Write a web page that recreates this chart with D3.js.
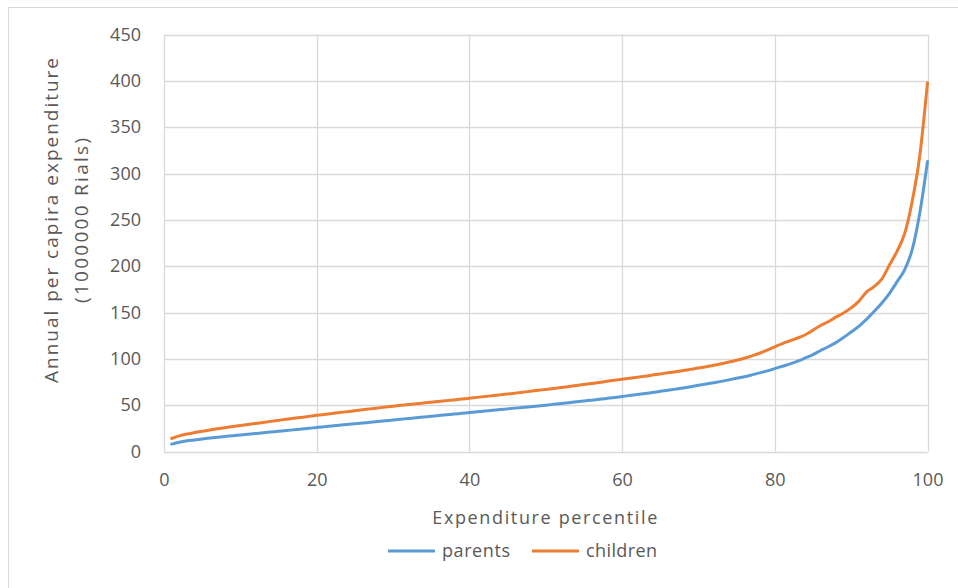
<!DOCTYPE html>
<html>
<head>
<meta charset="utf-8">
<script src="https://cdn.jsdelivr.net/npm/d3@7"></script>
<style>
  html, body { margin: 0; padding: 0; background: #fff; }
  svg { display: block; }
  text { font-family: "Segoe UI", "Open Sans", "Noto Sans", sans-serif; fill: #595959; }
</style>
</head>
<body>
<svg id="chart" width="958" height="588"></svg>
<script>
// Expenditure percentiles 1..100
const percentiles = d3.range(1, 101);

// Annual per capita expenditure (million Rials) at each percentile
const parents = [
  8, 10, 11.5, 12.5, 13.5, 14.5, 15.5, 16.3, 17, 17.8,
  18.6, 19.4, 20.2, 21, 21.8, 22.6, 23.4, 24.2, 25, 26,
  26.8, 27.6, 28.4, 29.2, 30, 30.8, 31.5, 32.3, 33.1, 34,
  34.8, 35.6, 36.4, 37.2, 38, 38.8, 39.6, 40.4, 41.2, 42,
  42.8, 43.6, 44.4, 45.2, 46, 46.8, 47.6, 48.4, 49.2, 50,
  50.9, 51.8, 52.7, 53.6, 54.5, 55.4, 56.3, 57.3, 58.3, 59.3,
  60.4, 61.5, 62.6, 63.7, 64.9, 66.1, 67.3, 68.5, 69.9, 71.4,
  72.8, 74.2, 75.7, 77.3, 79, 80.7, 82.7, 84.8, 87, 89.5,
  92, 94.5, 97.5, 101, 104.5, 109, 113, 117.5, 123, 129,
  135, 142.5, 151, 160, 170.5, 183, 196, 218, 258, 313
];
const children = [
  14, 16.8, 18.8, 20.4, 21.9, 23.2, 24.5, 25.7, 26.9, 28,
  29.2, 30.3, 31.4, 32.5, 33.6, 34.7, 35.8, 36.8, 37.9, 39,
  40, 41, 42, 43, 44, 45, 46, 47, 48, 48.9,
  49.8, 50.6, 51.5, 52.3, 53.2, 54, 54.9, 55.7, 56.6, 57.5,
  58.4, 59.3, 60.2, 61.1, 62, 63, 64, 65, 66, 67,
  68, 69, 70.1, 71.2, 72.3, 73.4, 74.5, 75.7, 76.8, 78,
  79.1, 80.2, 81.3, 82.5, 83.7, 84.9, 86.1, 87.4, 88.7, 90,
  91.5, 93, 94.7, 96.5, 98.5, 100.7, 103.2, 106, 109.5, 113,
  116.5, 119.5, 122.5, 126, 131, 136, 140, 145, 149.5, 155,
  162, 172, 178, 186, 201, 216, 235, 270, 320, 398
];

const xTicks = [0, 20, 40, 60, 80, 100];
const yTicks = [0, 50, 100, 150, 200, 250, 300, 350, 400, 450];

const seriesNames = ["parents", "children"];
const seriesColors = ["#5B9BD5", "#ED7D31"];
const seriesValues = [parents, children];

const svg = d3.select("#chart");

// chart outer frame
svg.append("rect")
  .attr("x", 8.5).attr("y", 7.5)
  .attr("width", 1000).attr("height", 1000)
  .attr("fill", "none").attr("stroke", "#D9D9D9").attr("stroke-width", 1);

const plot = { left: 164, right: 927.5, top: 34.5, bottom: 451.5 };

const x = d3.scaleLinear().domain([0, 100]).range([plot.left, plot.right]);
const y = d3.scaleLinear().domain([0, 450]).range([plot.bottom, plot.top]);

// horizontal gridlines
svg.append("g")
  .selectAll("line")
  .data(yTicks)
  .join("line")
  .attr("x1", plot.left).attr("x2", plot.right)
  .attr("y1", d => Math.round(y(d)) + 0.5).attr("y2", d => Math.round(y(d)) + 0.5)
  .attr("stroke", "#D9D9D9").attr("stroke-width", 1.3);

// vertical gridlines
svg.append("g")
  .selectAll("line")
  .data(xTicks)
  .join("line")
  .attr("x1", d => Math.round(x(d)) + 0.5).attr("x2", d => Math.round(x(d)) + 0.5)
  .attr("y1", plot.top).attr("y2", plot.bottom)
  .attr("stroke", "#D9D9D9").attr("stroke-width", 1.3);

// axes
const yAxis = d3.axisLeft(y).tickValues(yTicks).tickSize(0).tickPadding(23);
const gy = svg.append("g").attr("transform", `translate(${plot.left},0)`).call(yAxis);
gy.select(".domain").remove();
gy.selectAll("text").style("font-size", "18px").attr("fill", "#595959");

const xAxis = d3.axisBottom(x).tickValues(xTicks).tickSize(0).tickPadding(22);
const gx = svg.append("g").attr("transform", `translate(0,${plot.bottom})`).call(xAxis);
gx.select(".domain").remove();
gx.selectAll("text").style("font-size", "18px").attr("fill", "#595959");

// series lines
const line = d3.line()
  .x((d, i) => x(percentiles[i]))
  .y(d => y(d))
  .curve(d3.curveMonotoneX);

svg.append("g")
  .selectAll("path")
  .data(seriesValues)
  .join("path")
  .attr("d", d => line(d))
  .attr("fill", "none")
  .attr("stroke", (d, i) => seriesColors[i])
  .attr("stroke-width", 3)
  .attr("stroke-linejoin", "round")
  .attr("stroke-linecap", "round");

// axis titles
svg.append("text")
  .attr("x", (plot.left + plot.right) / 2 - 1)
  .attr("y", 523.5)
  .attr("text-anchor", "middle")
  .attr("textLength", 225)
  .attr("lengthAdjust", "spacing")
  .style("font-size", "18px")
  .text("Expenditure percentile");

const yTitle = svg.append("text")
  .attr("transform", "translate(0,220.5) rotate(-90)")
  .attr("text-anchor", "middle")
  .style("font-size", "19px");
yTitle.append("tspan").attr("x", 0).attr("y", 58)
  .attr("textLength", 325).attr("lengthAdjust", "spacing")
  .text("Annual per capira expenditure");
yTitle.append("tspan").attr("x", 0).attr("y", 87.5)
  .attr("textLength", 165).attr("lengthAdjust", "spacing")
  .text("(1000000 Rials)");

// legend
const legendItems = [
  { name: seriesNames[0], color: seriesColors[0], x0: 388, tx: 442, w: 68 },
  { name: seriesNames[1], color: seriesColors[1], x0: 532, tx: 586, w: 71 }
];
const lg = svg.append("g");
legendItems.forEach(it => {
  lg.append("line")
    .attr("x1", it.x0).attr("x2", it.x0 + 47)
    .attr("y1", 551).attr("y2", 551)
    .attr("stroke", it.color).attr("stroke-width", 3);
  lg.append("text")
    .attr("x", it.tx).attr("y", 556.5)
    .attr("textLength", it.w).attr("lengthAdjust", "spacing")
    .style("font-size", "18px")
    .text(it.name);
});
</script>
</body>
</html>
